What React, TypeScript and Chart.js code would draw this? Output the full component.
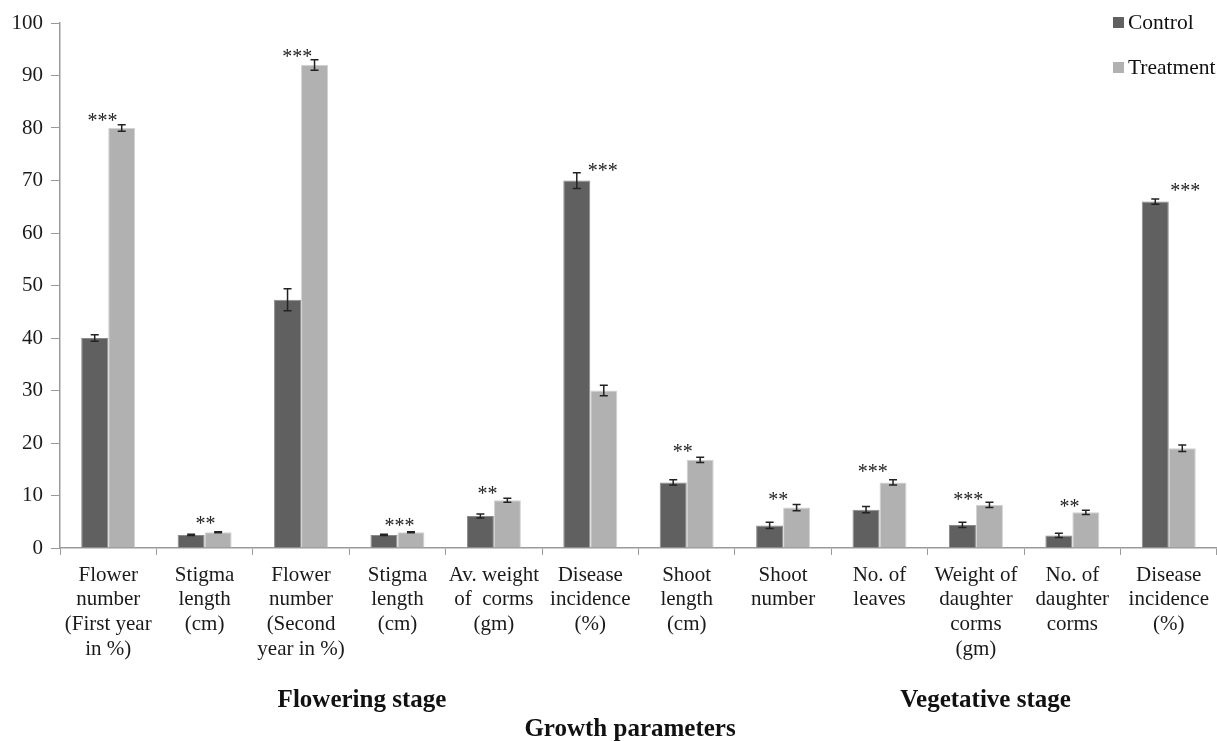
import React, { useEffect, useRef } from "react";
import { Chart, registerables } from "chart.js";

Chart.register(...registerables);

// Growth parameters (x categories), each label split into lines
const categories: string[][] = [
  ["Flower", "number", "(First year", "in %)"],
  ["Stigma", "length", "(cm)"],
  ["Flower", "number", "(Second", "year in %)"],
  ["Stigma", "length", "(cm)"],
  ["Av. weight", "of  corms", "(gm)"],
  ["Disease", "incidence", "(%)"],
  ["Shoot", "length", "(cm)"],
  ["Shoot", "number"],
  ["No. of", "leaves"],
  ["Weight of", "daughter", "corms", "(gm)"],
  ["No. of", "daughter", "corms"],
  ["Disease", "incidence", "(%)"],
];

const controlValues = [40, 2.5, 47.3, 2.5, 6.1, 70, 12.5, 4.3, 7.3, 4.4, 2.4, 66];
const treatmentValues = [80, 3.0, 92, 3.0, 9.1, 30, 16.8, 7.7, 12.5, 8.2, 6.8, 19];

const controlErrors = [0.6, 0.1, 2.1, 0.1, 0.4, 1.5, 0.5, 0.6, 0.6, 0.5, 0.4, 0.5];
const treatmentErrors = [0.6, 0.1, 1.0, 0.1, 0.4, 1.0, 0.5, 0.6, 0.5, 0.5, 0.4, 0.6];

// Significance marks: text, vertical value, horizontal shift (fraction of a category)
const significance = ["***", "**", "***", "***", "**", "***", "**", "**", "***", "***", "**", "***"];
const significanceY = [82.1, 5.3, 94.3, 5.0, 11.0, 72.6, 19.0, 9.9, 15.2, 9.9, 8.6, 68.8];
const significanceShift = [-0.06, 0.01, -0.04, 0.02, -0.065, 0.13, -0.04, -0.05, -0.07, -0.08, -0.03, 0.17];

const yTicks = [0, 10, 20, 30, 40, 50, 60, 70, 80, 90, 100];

const stageLabels = ["Flowering stage", "Vegetative stage"];
const stagePositions = [0.261, 0.8];
const axisTitle = "Growth parameters";

const SERIF = "'Liberation Serif', 'Times New Roman', serif";
const CONTROL_COLOR = "#606060";
const TREATMENT_COLOR = "#b1b1b1";
const AXIS_COLOR = "#9a9a9a";

const errorBarPlugin = {
  id: "errorBars",
  afterDatasetsDraw(chart: any) {
    const ctx = chart.ctx;
    const y = chart.scales.y;
    const errs = [controlErrors, treatmentErrors];
    ctx.save();
    ctx.strokeStyle = "#222";
    ctx.lineWidth = 1.5;
    chart.data.datasets.forEach((ds: any, di: number) => {
      const meta = chart.getDatasetMeta(di);
      meta.data.forEach((el: any, i: number) => {
        const v = ds.data[i];
        const e = errs[di][i];
        const top = y.getPixelForValue(v + e);
        const bot = y.getPixelForValue(v - e);
        const x = el.x;
        ctx.beginPath();
        ctx.moveTo(x, top);
        ctx.lineTo(x, bot);
        ctx.moveTo(x - 4, top);
        ctx.lineTo(x + 4, top);
        ctx.moveTo(x - 4, bot);
        ctx.lineTo(x + 4, bot);
        ctx.stroke();
      });
    });
    ctx.restore();
  },
};

const annotationPlugin = {
  id: "annotations",
  afterDraw(chart: any) {
    const ctx = chart.ctx;
    const xs = chart.scales.x;
    const ys = chart.scales.y;
    const area = chart.chartArea;
    const catW = (area.right - area.left) / categories.length;
    ctx.save();
    // significance asterisks
    ctx.fillStyle = "#222";
    ctx.font = `20px ${SERIF}`;
    ctx.textAlign = "center";
    ctx.textBaseline = "alphabetic";
    significance.forEach((s, i) => {
      const x = xs.getPixelForValue(i) + significanceShift[i] * catW;
      const y = ys.getPixelForValue(significanceY[i]) + 10;
      ctx.fillText(s, x, y);
    });

    // legend
    const labelX = area.right - 89;
    const rows = [22, 67];
    ctx.textAlign = "left";
    ctx.textBaseline = "middle";
    ctx.font = `21.5px ${SERIF}`;
    chart.data.datasets.forEach((ds: any, i: number) => {
      ctx.fillStyle = ds.backgroundColor;
      ctx.fillRect(labelX - 15, rows[i] - 5, 11, 11);
      ctx.fillStyle = "#111";
      ctx.fillText(ds.label, labelX, rows[i] + 1);
    });

    // stage labels and axis title
    ctx.textAlign = "center";
    ctx.font = `bold 25px ${SERIF}`;
    ctx.fillStyle = "#111";
    stageLabels.forEach((t, i) => {
      ctx.fillText(t, area.left + stagePositions[i] * (area.right - area.left), chart.height - 40);
    });
    ctx.fillText(axisTitle, area.left + 0.4927 * (area.right - area.left), chart.height - 11);
    ctx.restore();
  },
};

export default function App() {
  const canvasRef = useRef<HTMLCanvasElement | null>(null);

  useEffect(() => {
    document.body.style.margin = "0";
    const canvas = canvasRef.current;
    if (!canvas) return;
    const chart = new Chart(canvas, {
      type: "bar",
      data: {
        labels: categories,
        datasets: [
          {
            label: "Control",
            data: controlValues,
            backgroundColor: CONTROL_COLOR,
            borderColor: "#8a8a8a",
            borderWidth: 1,
            categoryPercentage: 0.56,
            barPercentage: 1.0,
          },
          {
            label: "Treatment",
            data: treatmentValues,
            backgroundColor: TREATMENT_COLOR,
            borderColor: "#d2d2d2",
            borderWidth: 1,
            categoryPercentage: 0.56,
            barPercentage: 1.0,
          },
        ],
      },
      options: {
        animation: false,
        responsive: true,
        maintainAspectRatio: false,
        layout: { padding: { top: 23, right: 0, left: 0, bottom: 0 } },
        plugins: {
          legend: { display: false },
          tooltip: { enabled: false },
        },
        scales: {
          x: {
            grid: {
              offset: true,
              drawOnChartArea: false,
              tickLength: 7,
              color: AXIS_COLOR,
            },
            border: { color: AXIS_COLOR, width: 1.5 },
            ticks: {
              autoSkip: false,
              maxRotation: 0,
              minRotation: 0,
              padding: 8,
              color: "#1a1a1a",
              font: { family: SERIF, size: 21, lineHeight: 1.17 },
            },
            afterFit(scale: any) {
              scale.height = 193;
            },
          },
          y: {
            min: 0,
            max: 100,
            afterBuildTicks(scale: any) {
              scale.ticks = yTicks.map((v) => ({ value: v }));
            },
            grid: {
              drawOnChartArea: false,
              tickLength: 9,
              color: AXIS_COLOR,
            },
            border: { color: AXIS_COLOR, width: 1.5 },
            ticks: {
              padding: 8,
              color: "#1a1a1a",
              font: { family: SERIF, size: 21 },
            },
            afterFit(scale: any) {
              scale.width = 60;
            },
          },
        },
      },
      plugins: [errorBarPlugin, annotationPlugin],
    });
    return () => chart.destroy();
  }, []);

  return (
    <div style={{ width: 1217, height: 741, position: "relative", background: "#fff" }}>
      <canvas ref={canvasRef} />
    </div>
  );
}
